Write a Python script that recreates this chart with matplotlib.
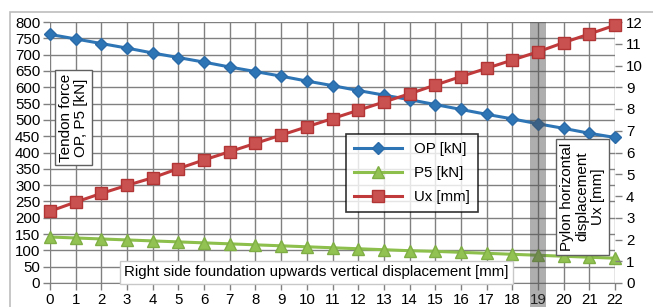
import numpy as np
import matplotlib.pyplot as plt
from matplotlib.patches import Rectangle

plt.rcParams['font.family'] = ['Liberation Sans', 'DejaVu Sans']

# 우측 기초 상향 변위 [mm]
disp = list(range(0, 23))
# 긴장력 OP, P5 [kN]
op = [762, 748, 734, 720, 705, 691, 677, 662, 648, 634, 619, 605,
      590, 576, 562, 547, 532, 517, 503, 488, 474, 459, 446]
p5 = [141, 138, 135, 132, 129, 126, 123, 120, 117, 114, 111, 108,
      105, 102, 99, 97, 94, 91, 88, 85, 82, 79, 76]
# 주탑 수평 변위 Ux [mm]
ux = [3.30, 3.72, 4.12, 4.49, 4.84, 5.26, 5.66, 6.04, 6.42, 6.80, 7.18, 7.56,
      7.94, 8.32, 8.70, 9.10, 9.49, 9.87, 10.25, 10.63, 11.05, 11.45, 11.85]

fig = plt.figure(figsize=(6.53, 3.07), dpi=100)
W, H = 653, 307
ax = fig.add_axes([50 / W, 1 - 283 / H, 565 / W, 261 / H])
ax2 = ax.twinx()

# 바깥 테두리
fig.patches.append(Rectangle((10 / W, -0.1), 1.2, 1 - 12 / H + 0.1, transform=fig.transFigure,
                             fill=False, edgecolor='#bdbdbd', lw=1.2))

l1, = ax.plot(disp, op, color='#2e75b6', lw=2.2, marker='D', ms=6.5,
              mfc='#2e75b6', mec='#2a6aa8', clip_on=False, zorder=5)
l2, = ax.plot(disp, p5, color='#8cbf4c', lw=2.2, marker='^', ms=8,
              mfc='#92c352', mec='#7fae44', clip_on=False, zorder=5)
l3, = ax2.plot(disp, ux, color='#c0393b', lw=2.2, marker='s', ms=8,
               mfc='#c9514f', mec='#b23535', clip_on=False, zorder=5)

ax.set_xlim(0, 22)
ax.set_ylim(0, 800)
ax2.set_ylim(0, 12)
ax.set_xticks(disp)
ax.set_yticks(range(0, 801, 50))
ax2.set_yticks(range(0, 13))
ax.grid(True, color='#808080', lw=1)
ax.set_axisbelow(True)
for a in (ax, ax2):
    for s in a.spines.values():
        s.set_visible(False)
ax.spines['bottom'].set_visible(True)
ax.spines['bottom'].set_color('#808080')
ax.tick_params(axis='both', colors='#808080', labelcolor='black', labelsize=10.8,
               length=5, width=1, pad=2)
ax2.tick_params(axis='y', colors='#808080', labelcolor='black', labelsize=10.8,
                length=5, width=1, pad=3)

# x=19 음영 띠
ax.add_patch(Rectangle((18.69, -0.1), 0.62, 1.1, transform=ax.get_xaxis_transform(),
                       color='#4d4d4d', alpha=0.45, lw=0, clip_on=False, zorder=6))

box = dict(boxstyle='square,pad=0.25', fc='white', ec='#606060', lw=1)
ax.text(0.0416, 0.634, 'Tendon force\nOP, P5 [kN]', transform=ax.transAxes, rotation=90,
        ha='center', va='center', fontsize=11, bbox=box, linespacing=1.12, zorder=7)
ax.text(0.9425, 0.331, 'Pylon horizontal\ndisplacement\nUx [mm]', transform=ax.transAxes,
        rotation=90, ha='center', va='center', fontsize=11, bbox=box, linespacing=1.12, zorder=7)
ax2.text(0.4717, 0.042, 'Right side foundation upwards vertical displacement [mm]',
         transform=ax.transAxes, ha='center', va='center', fontsize=10.8,
         bbox=dict(boxstyle='square,pad=0.3', fc='white', ec='#c8c8c8', lw=1), zorder=7)

leg = ax2.legend([l1, l2, l3], ['OP [kN]', 'P5 [kN]', 'Ux [mm]'],
                 loc='upper left', bbox_to_anchor=((346 - 50) / 565, (283 - 134) / 261),
                 fontsize=10.8, frameon=True, fancybox=False, edgecolor='black',
                 handlelength=3.2, borderaxespad=0, labelspacing=0.65, borderpad=0.55)
leg.get_frame().set_linewidth(1.2)
leg.set_zorder(8)

fig.savefig('out.png', dpi=100)
